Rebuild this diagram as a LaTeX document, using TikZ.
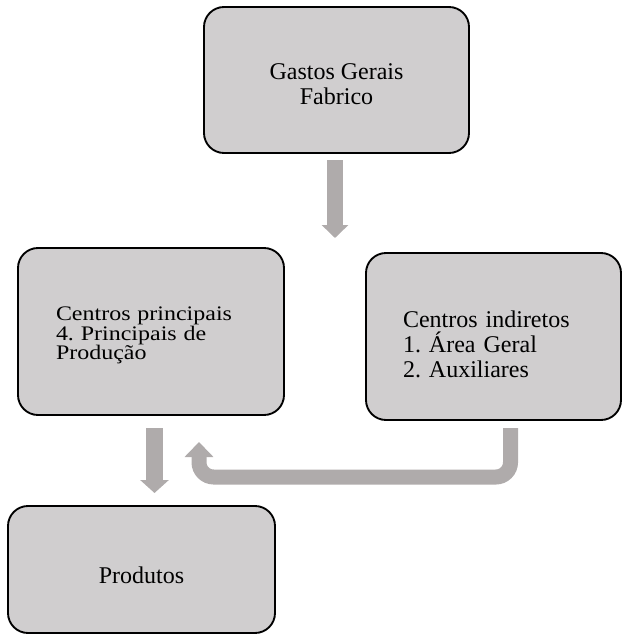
\documentclass[tikz,border=0pt]{standalone}
\usepackage{fontspec}
\setmainfont{Liberation Serif}
\newfontfamily\widefont[FakeStretch=1.16]{Liberation Serif}
\frenchspacing
\usetikzlibrary{arrows.meta}

\definecolor{boxgray}{HTML}{D0CECF}
\definecolor{arrowgray}{HTML}{AFABAB}

\begin{document}
\begin{tikzpicture}[x=0.75pt, y=-0.75pt,
  box/.style={draw=black, fill=boxgray, line width=1.4pt, rounded corners=15pt, inner sep=0pt},
  boxtext/.style={inner sep=0pt, font=\fontsize{18}{18.75}\selectfont},
  blockarrow/.style={draw=arrowgray, line width=12pt,
    -{Triangle[length=9.75pt, width=19.5pt]}}]

\useasboundingbox (0,0) rectangle (625,635);

% Boxes
\node[box, minimum width=198.75pt, minimum height=109.5pt] (gastos) at (336.5,80) {};
\node[box, minimum width=199.5pt, minimum height=125.25pt] (principais) at (151,331.5) {};
\node[box, minimum width=191.25pt, minimum height=125.25pt] (indiretos) at (493.5,336.5) {};
\node[box, minimum width=200.25pt, minimum height=95.25pt] (produtos) at (141.5,569.5) {};

% Texts
\node[boxtext, align=center] (gastostext) at ([yshift=-3.5pt]gastos.center) {Gastos Gerais\\Fabrico};
\node[boxtext, text width=142.5pt, align=left, font=\widefont\fontsize{15.5}{14.75}\selectfont,
  execute at begin node={\lineskiplimit=-20pt\relax}]
  (principaistext) at ([yshift=-3pt]principais.center) {Centros principais\\4. Principais de\\Produção};
\node[boxtext, text width=135.75pt, align=left]
  (indiretostext) at ([yshift=-6pt]indiretos.center) {Centros indiretos\\1. Área Geral\\2. Auxiliares};
\node[boxtext] (produtostext) at ([yshift=-4.5pt]produtos.center) {Produtos};

% Arrow ends
\coordinate (g1) at (335,160);
\coordinate (g2) at (335,238);
\coordinate (p1) at (154.5,428);
\coordinate (p2) at (154.5,493);
\coordinate (i1) at (510.5,428);
\coordinate (i2) at (199,442);

% Draw arrows
\draw[blockarrow] (g1) -- (g2);
\draw[blockarrow, line width=12.75pt, -{Triangle[length=9.75pt, width=21pt]}] (p1) -- (p2);
\draw[blockarrow, line width=11.25pt, rounded corners=11pt,
  -{Triangle[length=11.25pt, width=21pt]}] (i1) |- (i2 |- 0,477) -- (i2);

\end{tikzpicture}
\end{document}
